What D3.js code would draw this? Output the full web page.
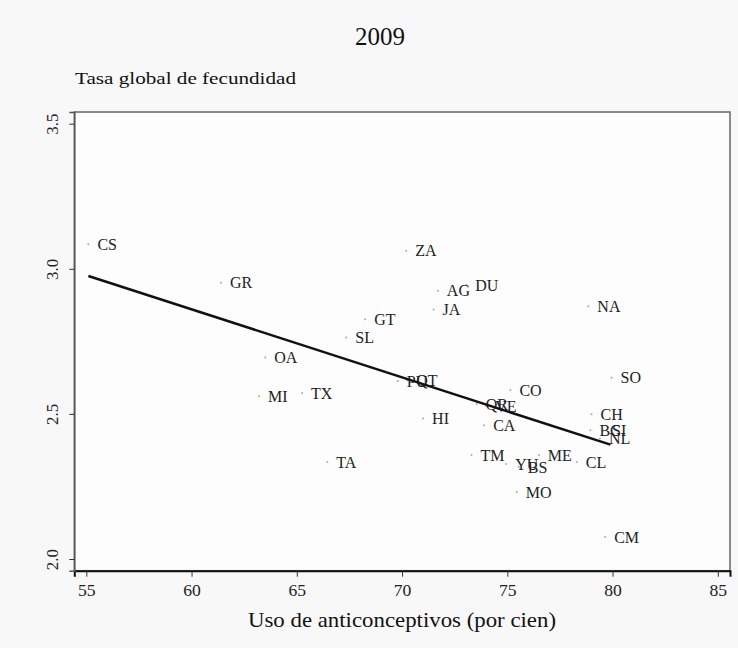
<!DOCTYPE html>
<html><head><meta charset="utf-8">
<script src="https://cdn.jsdelivr.net/npm/d3@7"></script>
<style>
html,body{margin:0;padding:0;background:#f8f8f8;}
svg{display:block;font-family:"Liberation Serif","Times New Roman",serif;}
</style></head>
<body><svg id="c" width="738" height="648"></svg>
<script>
// Data
const states = ["CS","GR","ZA","DU","AG","JA","NA","GT","SL","OA","SO","PU","QT","CO","MI","TX","QR","VE","CH","HI","CA","BC","SI","NL","TM","ME","TA","CL","YU","BS","MO","CM"];
const contraceptiveUse = [55.1,61.4,70.2,73.05,71.7,71.5,78.85,68.25,67.35,63.5,79.95,69.8,70.25,75.15,63.2,65.25,73.55,74.0,79.0,71.0,73.9,78.95,79.55,79.4,73.3,76.5,66.45,78.3,74.95,75.55,75.45,79.65];
const fertilityRate = [3.085,2.952,3.062,2.944,2.924,2.860,2.871,2.826,2.763,2.694,2.625,2.613,2.615,2.582,2.561,2.572,2.534,2.527,2.499,2.484,2.461,2.444,2.442,2.415,2.358,2.358,2.334,2.334,2.327,2.317,2.231,2.076];
const fitLine = [[55.1,2.975],[79.9,2.394]];
const xTicks = [55,60,65,70,75,80,85];
const yTicks = [2.0,2.5,3.0,3.5];
const title = "2009";
const yTitle = "Tasa global de fecundidad";
const xTitle = "Uso de anticonceptivos (por cien)";

const svg = d3.select("#c");
const L=74.3, R=730, T=112, B=570.7;
const x = d3.scaleLinear().domain([54.43,85.58]).range([L,R]);
const y = d3.scaleLinear().domain([1.9597,3.5403]).range([B,T]);

svg.append("rect").attr("x",L).attr("y",T).attr("width",R-L).attr("height",B-T)
  .attr("fill","#fdfdfd").attr("stroke","#666").attr("stroke-width",1.5);

// axes
const xa = svg.append("g").attr("transform",`translate(0,${B})`)
  .call(d3.axisBottom(x).tickValues(xTicks).tickSize(6).tickPadding(8).tickFormat(d3.format("d")));
xa.select(".domain").attr("stroke","#111").attr("stroke-width",2);
xa.selectAll(".tick line").attr("stroke","#333");
xa.selectAll("text").attr("font-size",16).attr("fill","#222").attr("font-family","Liberation Serif, serif")
  .attr("transform","scale(1.1,1)");

const ya = svg.append("g").attr("transform",`translate(${L},0)`)
  .call(d3.axisLeft(y).tickValues(yTicks).tickSize(5).tickFormat(d3.format(".1f")));
ya.select(".domain").attr("stroke","#555").attr("stroke-width",1.5);
ya.selectAll(".tick line").attr("stroke","#333");
ya.selectAll("text").attr("font-size",17).attr("fill","#222").attr("font-family","Liberation Serif, serif")
  .attr("text-anchor","middle").attr("transform","rotate(-90)").attr("x",0).attr("y",-16).attr("dy","0");

// points
const pts = states.map((s,i)=>({s,x:contraceptiveUse[i],y:fertilityRate[i]}));
svg.append("g").selectAll("circle").data(pts).join("circle")
  .attr("cx",d=>x(d.x)).attr("cy",d=>y(d.y)).attr("r",1).attr("fill","#aaa");
svg.append("g").selectAll("text").data(pts).join("text")
  .attr("x",d=>x(d.x)+9).attr("y",d=>y(d.y)).attr("dy","0.35em")
  .attr("font-size",16).attr("fill","#222")
  .text(d=>d.s);

// fit line
svg.append("path").datum(fitLine)
  .attr("d",d3.line().x(d=>x(d[0])).y(d=>y(d[1])))
  .attr("stroke","#111").attr("stroke-width",2.5).attr("fill","none");

// titles
svg.append("text").attr("x",380).attr("y",45).attr("text-anchor","middle")
  .attr("font-size",25).attr("fill","#111").text(title);
svg.append("text").attr("x",75).attr("y",84)
  .attr("font-size",16.5).attr("fill","#111")
  .attr("textLength",221).attr("lengthAdjust","spacingAndGlyphs").text(yTitle);
svg.append("text").attr("x",248).attr("y",627)
  .attr("font-size",21).attr("fill","#111")
  .attr("textLength",308).attr("lengthAdjust","spacingAndGlyphs").text(xTitle);
</script></body></html>
